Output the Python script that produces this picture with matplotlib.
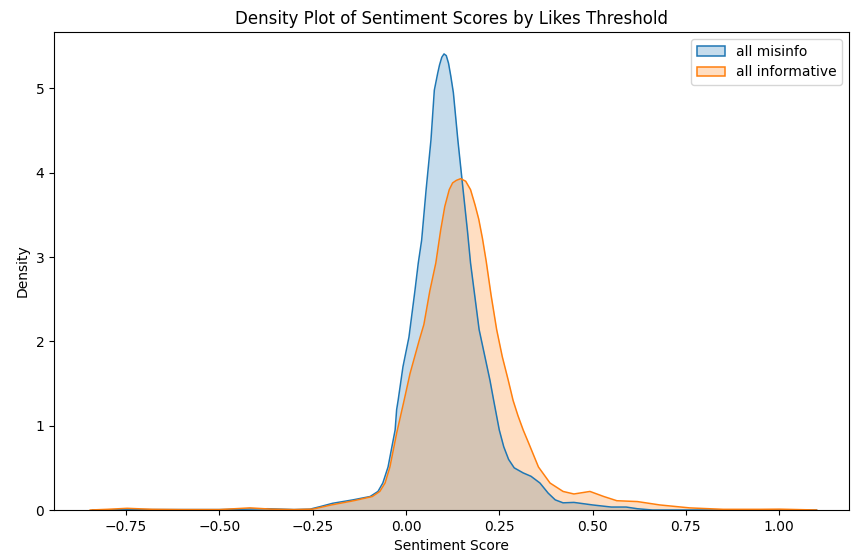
import numpy as np
import matplotlib
matplotlib.use("Agg")
import matplotlib.pyplot as plt
from matplotlib.patches import Patch

# density curves (x = sentiment score, y = density)
misinfo_x = [-0.84, -0.70, -0.50, -0.37, -0.30, -0.257, -0.23, -0.196, -0.142, -0.096,
             -0.075, -0.062, -0.048, -0.029, -0.025, -0.021, -0.008, 0.008, 0.024, 0.033,
             0.042, 0.054, 0.067, 0.076, 0.085, 0.090, 0.096, 0.102, 0.108, 0.114,
             0.120, 0.127, 0.139, 0.153, 0.165, 0.173, 0.196, 0.225, 0.235, 0.250,
             0.262, 0.275, 0.290, 0.314, 0.335, 0.359, 0.381, 0.400, 0.421, 0.450,
             0.500, 0.550, 0.590, 0.620, 0.660, 1.10]
misinfo_y = [0.0, 0.005, 0.005, 0.015, 0.005, 0.01, 0.04, 0.08, 0.12, 0.16,
             0.22, 0.32, 0.51, 0.95, 1.19, 1.30, 1.70, 2.05, 2.60, 2.93,
             3.20, 3.80, 4.39, 4.98, 5.18, 5.28, 5.37, 5.41, 5.39, 5.30,
             5.15, 4.95, 4.39, 3.80, 3.30, 2.93, 2.14, 1.54, 1.30, 0.95,
             0.75, 0.60, 0.50, 0.44, 0.40, 0.32, 0.20, 0.12, 0.085, 0.09,
             0.06, 0.035, 0.035, 0.015, 0.0, 0.0]

inform_x = [-0.846, -0.80, -0.747, -0.68, -0.60, -0.50, -0.418, -0.36, -0.30, -0.25,
            -0.20, -0.14, -0.09, -0.07, -0.056, -0.043, -0.025, -0.005, 0.011, 0.036,
            0.048, 0.064, 0.080, 0.093, 0.104, 0.116, 0.125, 0.135, 0.1465, 0.160,
            0.173, 0.185, 0.195, 0.205, 0.215, 0.228, 0.243, 0.258, 0.274, 0.287,
            0.300, 0.314, 0.330, 0.355, 0.386, 0.421, 0.450, 0.493, 0.530, 0.565,
            0.620, 0.680, 0.760, 0.850, 0.950, 1.00, 1.05, 1.10]
inform_y = [0.0, 0.008, 0.02, 0.008, 0.005, 0.005, 0.025, 0.01, 0.005, 0.01,
            0.06, 0.11, 0.16, 0.22, 0.32, 0.51, 0.91, 1.30, 1.62, 2.02,
            2.20, 2.60, 2.93, 3.32, 3.60, 3.80, 3.88, 3.91, 3.93, 3.90,
            3.80, 3.62, 3.45, 3.22, 2.95, 2.55, 2.14, 1.82, 1.54, 1.30,
            1.12, 0.95, 0.78, 0.51, 0.32, 0.22, 0.19, 0.22, 0.16, 0.11,
            0.10, 0.06, 0.025, 0.008, 0.008, 0.01, 0.005, 0.0]

labels = ["all misinfo", "all informative"]
colors = ["#1f77b4", "#ff7f0e"]

fig = plt.figure(figsize=(8.51, 5.55), dpi=100)
ax = fig.add_axes([54 / 851, 45 / 555, 795 / 851, 478 / 555])

for xs, ys, c in [(misinfo_x, misinfo_y, colors[0]), (inform_x, inform_y, colors[1])]:
    ax.fill_between(xs, 0, ys, color=c, alpha=0.25, linewidth=0)
    ax.plot(xs, ys, color=c, linewidth=1.1)

ax.set_xlim(-0.943, 1.187)
ax.set_ylim(0, 5.67)
ax.set_xticks([-0.75, -0.5, -0.25, 0.0, 0.25, 0.5, 0.75, 1.0])
ax.set_yticks([0, 1, 2, 3, 4, 5])
ax.set_xlabel("Sentiment Score")
ax.set_ylabel("Density")
ax.set_title("Density Plot of Sentiment Scores by Likes Threshold")

handles = [Patch(facecolor=matplotlib.colors.to_rgba(c, 0.25), edgecolor=c, linewidth=1.1)
           for c in colors]
ax.legend(handles, labels, loc="upper right")

fig.savefig("out.png", dpi=100)
